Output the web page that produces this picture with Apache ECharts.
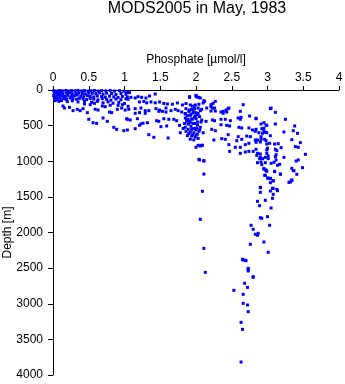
<!DOCTYPE html>
<html>
<head>
<meta charset="utf-8">
<script src="https://cdn.jsdelivr.net/npm/echarts@6/dist/echarts.min.js"></script>
<style>
  html, body { margin: 0; padding: 0; background: #fff; }
  #chart { width: 345px; height: 384px; }
</style>
</head>
<body>
<div id="chart"></div>
<script>
// Phosphate [µmol/l] vs depth [m] profiles, MODS2005, May 1983.
// Each entry: [phosphate, depth]

const titleText = 'MODS2005 in May, 1983';
const xName = 'Phosphate [µmol/l]';
const yName = 'Depth [m]';

// Mixed surface layer (0-200 m)
const surfaceLayer = [
  [0.01,10],[0.05,15],[0.09,8],[0.13,12],[0.18,6],[0.22,14],[0.26,9],[0.31,11],[0.35,5],[0.40,13],
  [0.44,8],[0.49,16],[0.53,10],[0.58,7],[0.63,14],[0.68,9],[0.74,12],[0.80,6],[0.86,15],[0.93,10],[0.99,18],
  [0.02,42],[0.06,48],[0.10,40],[0.14,50],[0.19,44],[0.23,38],[0.27,52],[0.32,46],[0.36,41],[0.41,49],
  [0.45,55],[0.50,43],[0.55,47],[0.60,52],[0.65,40],[0.70,58],[0.75,45],[0.82,50],[0.88,62],[0.95,48],[1.02,60],
  [0.01,78],[0.05,85],[0.09,74],[0.13,82],[0.17,90],[0.21,76],[0.26,88],[0.30,80],[0.34,72],[0.39,86],
  [0.43,94],[0.48,79],[0.52,88],[0.57,98],[0.62,84],[0.68,92],[0.73,100],[0.79,86],[0.85,96],[0.91,104],[0.97,90],[1.04,98],
  [0.02,112],[0.06,120],[0.10,108],[0.15,118],[0.19,126],[0.24,112],[0.28,122],[0.33,130],[0.37,116],[0.42,124],
  [0.47,134],[0.52,118],[0.57,128],[0.63,138],[0.69,122],[0.75,132],[0.81,142],[0.88,128],[0.95,136],
  [0.03,150],[0.08,158],[0.12,146],[0.20,162],[0.27,152],[0.35,168],[0.44,160],[0.54,172],[0.62,160],
  [0.70,180],[0.77,166],[0.84,186],[0.92,174],[1.00,190],[0.05,130],[0.11,150],[0.18,130],
  [1.03,37],[1.07,37],[1.43,56],[1.35,84],[1.30,112],[1.24,103],[1.19,94],[1.15,112],[1.09,103],[1.05,130],[1.02,122],
  [1.91,103],[2.00,84],[1.91,93],[2.00,75],[2.04,103]
];

// Upper water column / nutricline (150-800 m)
const upperWater = [
  [0.14,225],[0.16,253],[0.23,243],[0.28,290],[0.34,271],[0.38,290],[0.42,262],[0.44,196],[0.52,206],[0.58,187],
  [0.48,318],[0.59,271],[0.63,281],[0.69,225],[0.73,234],[0.80,215],[0.79,309],[0.82,318],[0.90,271],[0.96,253],
  [1.01,281],[0.91,215],[0.97,206],[0.50,411],[0.56,459],[0.61,468],[0.70,393],[0.76,440],[0.85,524],[0.89,552],
  [0.99,571],[1.04,411],[1.08,421],
  [1.21,168],[1.27,160],[1.31,180],[1.37,168],[1.43,180],[1.49,168],[1.55,188],[1.60,196],[1.67,200],[1.74,182],
  [1.81,210],[1.86,190],[1.92,210],[1.99,210],[2.04,200],[2.10,182],[2.11,150],
  [1.05,229],[1.15,262],[1.23,253],[1.29,290],[1.34,290],[1.44,262],[1.49,281],[1.53,299],[1.58,253],[1.65,290],
  [1.71,271],[1.75,290],[1.80,309],[1.86,262],[1.91,281],[1.96,299],[2.00,318],[2.06,290],
  [1.06,271],[1.15,327],[1.21,318],[1.29,327],[1.48,299],[1.58,309],[1.85,337],[1.92,355],[1.99,365],[2.05,374],
  [1.85,393],[1.89,411],[1.94,403],[2.00,403],[1.03,403],[1.18,403],[1.45,431],[1.55,403],[1.62,411],[1.69,411],
  [1.73,431],[1.32,459],[1.87,440],[1.92,459],[1.96,468],[2.02,449],[2.08,421],[1.21,496],[1.15,543],[1.51,515],
  [1.77,496],[1.85,524],[1.89,552],[1.94,552],[2.01,533],[2.06,524],[1.04,561],[1.34,627],[1.78,599],[1.92,589],
  [1.97,599],[2.04,580],[1.94,646],[2.00,636],[1.41,664],[1.61,674],[1.23,475],[1.26,466],[1.48,440],[1.59,505],
  [1.85,330],[1.88,360],[1.90,300],[1.93,340],[1.96,320],[1.98,380],[2.01,350],[2.03,330],[1.87,420],[1.91,440],
  [1.95,410],[1.98,470],[2.02,490],[1.89,480],[1.93,510],[1.97,540],[2.00,560],[1.86,580],[1.90,610],[1.95,630],
  [1.99,660],[2.02,620],[1.92,690],[1.97,700],[2.03,680],[1.88,640],[1.84,470],[1.82,540],[2.05,560],[2.07,450],
  [1.94,270],[1.98,250],[2.10,600],
  [2.01,98],[2.06,112],[2.12,159],[2.27,159],[2.24,187],[2.21,206],[1.95,225],[1.98,262],[2.03,253],[2.08,271],
  [2.15,253],[2.21,295],[2.27,295],[2.35,309],[2.38,299],[2.42,281],[2.45,262],[2.62,299],[2.66,206],[2.75,365],
  [2.84,403],[2.95,459],[2.99,495],[2.59,393],[2.62,411],[2.63,383],[2.35,411],[2.41,411],[2.48,431],[2.23,421],
  [2.26,431],[2.14,440],[2.35,487],[2.43,496],[2.47,505],[2.22,552],[2.27,571],[2.60,524],[2.64,533],[2.74,533],
  [2.79,561],[2.83,580],[2.92,543],[2.95,580],[2.99,599],[2.59,655],[2.71,646],[2.76,655],[2.45,627],[2.36,683],
  [2.41,692],[2.25,702],[2.57,711],[2.64,692],[2.83,702],[2.90,730],[2.96,692],[2.46,767],[2.55,804],[2.62,804],
  [2.69,767],[2.74,748],[2.00,804],[2.06,786],[2.09,776],[2.03,776],[2.08,776],
  [2.21,234],[2.23,253],[2.26,253],[2.38,327],[2.43,309],[2.46,253],
  [3.05,253],[3.11,313],[3.25,411],[3.04,262],[2.84,397],[2.91,477],[2.98,495],[3.11,477],[3.38,505],
  [2.84,552],[2.95,538],[2.88,599],[2.93,608],[2.97,594],[3.23,589],[3.36,571],[3.42,608],[3.04,641],[2.91,655],
  [2.86,702],[2.91,692],[2.98,711],[3.34,697],[2.84,734],[2.99,758],[3.03,748],[3.10,758],[3.15,753],[3.46,739],
  [3.39,795],[3.43,804],[3.19,809],[3.00,818],[2.99,842],[3.11,832],[3.13,851],[2.84,832]
];

// Intermediate water (800-1700 m)
const midWater = [
  [2.47,861],[2.62,889],[2.69,870],[2.74,861],[2.80,861],[2.85,917],[2.90,945],[2.93,964],
  [2.04,973],[2.11,992],[2.05,982],[2.11,997],[2.11,1180],[2.09,1422],
  [2.86,889],[2.90,898],[2.99,889],[3.01,926],[3.12,908],[3.11,936],[3.53,903],[3.23,945],[2.89,964],
  [2.97,945],[3.01,964],[3.12,982],[3.40,997],[3.43,982],[2.86,1020],[2.91,1011],[2.97,1020],[3.05,1029],
  [3.09,1015],[3.34,1100],[3.49,1090],[2.95,1109],[2.98,1123],[3.17,1043],[3.14,1057],[3.37,1132],
  [2.97,1197],[3.00,1235],[3.04,1245],[3.08,1273],[3.34,1263],[3.32,1291],[3.18,1179],[3.10,1141],
  [2.90,1366],[3.08,1380],[3.13,1394],[2.92,1048],[2.95,1104],[2.99,1141],
  [2.98,1132],[3.10,1146],[3.18,1183],[3.36,1132],[3.41,1183],[2.96,1197],[3.01,1239],[3.04,1239],
  [3.08,1277],[3.04,1301],[3.34,1268],[3.30,1296],[3.07,1380],[2.90,1371],[3.04,1418],[3.14,1413],
  [2.90,1436],[3.08,1464],[3.07,1520],[2.97,1548],[2.86,1562],[2.89,1624],[3.05,1656]
];

// Deep water (below 1700 m)
const deepWater = [
  [2.06,1815],[2.11,2222],[2.13,2559],
  [2.90,1792],[2.92,1801],[3.00,1778],[3.03,1899],[2.77,1899],[2.80,1955],[2.83,2025],[2.87,2011],
  [2.86,2039],[2.76,2166],[2.95,2133],[3.01,2278],[2.65,2376],[2.69,2390],[2.73,2503],[2.73,2540],[2.80,2629],
  [2.66,2386],[2.70,2395],[2.73,2517],[2.80,2620],[2.68,2713],[2.72,2770],[2.53,2812],[2.66,2868],
  [2.66,2994],[2.72,3018],[2.73,3111],[2.63,3261],[2.65,3359],[2.63,3818]
];

const chart = echarts.init(document.getElementById('chart'), null, { renderer: 'canvas' });
const font = 'Liberation Sans, Arial, Helvetica, sans-serif';
const blue = '#0000ff';

function pointSeries(name, data) {
  return {
    name: name,
    type: 'scatter',
    data: data,
    symbol: 'rect',
    symbolSize: 3,
    itemStyle: { color: blue, opacity: 1 },
    emphasis: { disabled: true },
    animation: false
  };
}

chart.setOption({
  backgroundColor: '#ffffff',
  animation: false,
  title: {
    text: titleText,
    left: 197,
    textAlign: 'center',
    top: 1,
    padding: 0,
    textStyle: { fontFamily: font, fontSize: 16, fontWeight: 'normal', color: '#000' }
  },
  grid: { left: 53, right: 6, top: 90, bottom: 9, containLabel: false, outerBoundsMode: 'none' },
  xAxis: {
    type: 'value',
    position: 'top',
    min: 0,
    max: 4,
    interval: 0.5,
    name: xName,
    nameLocation: 'middle',
    nameGap: 24,
    nameMoveOverlap: false,
    nameTextStyle: { fontFamily: font, fontSize: 12, color: '#000' },
    axisLine: { show: true, onZero: false, lineStyle: { color: '#000', width: 1 } },
    axisTick: { show: true, inside: false, length: 4, lineStyle: { color: '#000' } },
    axisLabel: { fontFamily: font, fontSize: 12, color: '#000', margin: 6, formatter: v => String(v) },
    splitLine: { show: false }
  },
  yAxis: {
    type: 'value',
    inverse: true,
    min: 0,
    max: 4000,
    interval: 500,
    name: yName,
    nameLocation: 'middle',
    nameGap: 39,
    nameMoveOverlap: false,
    nameTextStyle: { fontFamily: font, fontSize: 12, color: '#000' },
    axisLine: { show: true, onZero: false, lineStyle: { color: '#000', width: 1 } },
    axisTick: { show: true, inside: false, length: 5, lineStyle: { color: '#000' } },
    axisLabel: { fontFamily: font, fontSize: 12, color: '#000', margin: 10, formatter: v => String(v) },
    splitLine: { show: false }
  },
  series: [
    pointSeries('surface', surfaceLayer),
    pointSeries('upper', upperWater),
    pointSeries('intermediate', midWater),
    pointSeries('deep', deepWater)
  ]
});
</script>
</body>
</html>
